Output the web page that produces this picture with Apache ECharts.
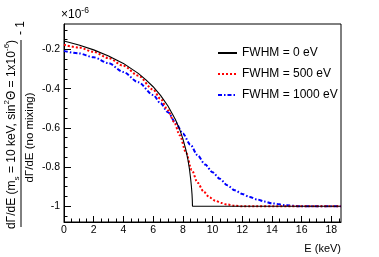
<!DOCTYPE html>
<html><head><meta charset="utf-8">
<script src="https://cdn.jsdelivr.net/npm/echarts@6/dist/echarts.min.js"></script>
<style>html,body{margin:0;padding:0;background:#fff}#c{width:379px;height:257px}</style>
</head><body><div id="c"></div>
<script>
// Data (values in units of 1e-6)
const seriesNames = ['FWHM = 0 eV', 'FWHM = 500 eV', 'FWHM = 1000 eV'];
const eBlack = [0, 1, 2, 3, 4, 5, 5.5, 6, 6.5, 7, 7.5, 7.8, 8.0, 8.2, 8.35, 8.45, 8.52, 8.58, 8.62, 8.64, 8.65, 18.65];
const vBlack = [-0.157, -0.177, -0.202, -0.233, -0.271, -0.322, -0.354, -0.39, -0.434, -0.488, -0.557, -0.61, -0.655, -0.71, -0.765, -0.812, -0.855, -0.9, -0.94, -0.97, -1.0, -1.0];
const eRed = [0, 1, 2, 3, 4, 5, 6, 6.5, 7, 7.4, 7.8, 8.2, 8.6, 9.0, 9.4, 9.8, 10.2, 10.6, 11, 11.5, 12, 18.65];
const vRed = [-0.176, -0.19, -0.212, -0.244, -0.283, -0.333, -0.405, -0.452, -0.51, -0.568, -0.638, -0.722, -0.815, -0.88, -0.925, -0.955, -0.972, -0.983, -0.991, -0.997, -1.0, -1.0];
const eBlue = [0, 1, 2, 3, 4, 5, 6, 6.5, 7, 7.5, 8, 8.5, 9, 9.5, 10, 10.5, 11, 11.5, 12, 12.5, 13, 13.5, 14, 15, 16, 18.65];
const vBlue = [-0.207, -0.22, -0.24, -0.27, -0.315, -0.367, -0.432, -0.474, -0.52, -0.572, -0.628, -0.685, -0.74, -0.787, -0.826, -0.86, -0.893, -0.918, -0.937, -0.952, -0.965, -0.976, -0.985, -0.995, -1.0, -1.0];
const xMajorTicks = [0, 2, 4, 6, 8, 10, 12, 14, 16, 18];
const xMinorTicks = [0.5,1,1.5,2.5,3,3.5,4.5,5,5.5,6.5,7,7.5,8.5,9,9.5,10.5,11,11.5,12.5,13,13.5,14.5,15,15.5,16.5,17,17.5,18.5];
const yMajorTicks = [-1, -0.8, -0.6, -0.4, -0.2];
const yMinorTicks = [-1.05,-0.95,-0.9,-0.85,-0.75,-0.7,-0.65,-0.55,-0.5,-0.45,-0.35,-0.3,-0.25,-0.15,-0.1];
const xRange = [0, 18.65];
const yRange = [-1.08, -0.07];

const zip = (a, b) => a.map((x, i) => [x, b[i]]);
const FONT = 'Liberation Sans';
const chart = echarts.init(document.getElementById('c'), null, {renderer: 'canvas'});
const xBase = {type: 'value', min: xRange[0], max: xRange[1], splitLine: {show: false}};
const yBase = {type: 'value', min: yRange[0], max: yRange[1], splitLine: {show: false}};
chart.setOption({
  animation: false,
  backgroundColor: '#fff',
  grid: {left: 64, right: 38, top: 24, bottom: 35, show: true, borderColor: '#000', borderWidth: 1},
  xAxis: [
    Object.assign({}, xBase, {
      axisLine: {lineStyle: {color: '#000', width: 1}},
      axisTick: {inside: true, length: 6, lineStyle: {color: '#000'}, customValues: xMajorTicks},
      axisLabel: {customValues: xMajorTicks, color: '#000', fontFamily: FONT, fontSize: 10.5, margin: 3}
    }),
    Object.assign({}, xBase, {
      position: 'bottom',
      axisLine: {show: false},
      axisTick: {inside: true, length: 3.5, lineStyle: {color: '#000'}, customValues: xMinorTicks},
      axisLabel: {show: false}
    })
  ],
  yAxis: [
    Object.assign({}, yBase, {
      axisLine: {show: true, lineStyle: {color: '#000', width: 1}},
      axisTick: {show: true, inside: true, length: 7, lineStyle: {color: '#000'}, customValues: yMajorTicks},
      axisLabel: {customValues: yMajorTicks, color: '#000', fontFamily: FONT, fontSize: 10.5, margin: 4,
        formatter: v => String(Math.round(v * 10) / 10)}
    }),
    Object.assign({}, yBase, {
      position: 'left',
      axisLine: {show: false},
      axisTick: {show: true, inside: true, length: 3.5, lineStyle: {color: '#000'}, customValues: yMinorTicks},
      axisLabel: {show: false}
    })
  ],
  legend: {
    orient: 'vertical', left: 212, top: 42, itemWidth: 19, itemHeight: 12, itemGap: 9,
    itemStyle: {opacity: 0},
    textStyle: {color: '#000', fontFamily: FONT, fontSize: 12},
    data: seriesNames
  },
  series: [
    {name: seriesNames[0], type: 'line', data: zip(eBlack, vBlack), symbol: 'none', smooth: false,
      lineStyle: {color: '#000', width: 1.1}, itemStyle: {color: '#000'}, z: 4},
    {name: seriesNames[1], type: 'line', data: zip(eRed, vRed), symbol: 'none', smooth: 0.3, smoothMonotone: 'x',
      lineStyle: {color: '#ff0000', width: 2, type: [2, 2]}, itemStyle: {color: '#ff0000'}, z: 3},
    {name: seriesNames[2], type: 'line', data: zip(eBlue, vBlue), symbol: 'none', smooth: 0.3, smoothMonotone: 'x',
      lineStyle: {color: '#0000ff', width: 2, type: [4, 2, 1.5, 2]}, itemStyle: {color: '#0000ff'}, z: 2}
  ],
  graphic: [
    {type: 'text', x: 61, y: 24, style: {text: '×10{sup|-6}', fill: '#000', fontSize: 12, fontFamily: FONT,
      verticalAlign: 'bottom', rich: {sup: {fontSize: 8.5, fontFamily: FONT, verticalAlign: 'top', lineHeight: 18}}}},
    {type: 'text', x: 341, y: 249, style: {text: 'E (keV)', fill: '#000', fontSize: 11, fontFamily: FONT, align: 'right', verticalAlign: 'middle'}},
    {type: 'text', x: 12, y: 134.5, rotation: Math.PI / 2, style: {
      text: 'dΓ/dE (m{sub|s} = 10 keV, sin{sup|2}Θ = 1x10{sup|-6})', fill: '#000', fontSize: 12, fontFamily: FONT,
      align: 'center', verticalAlign: 'middle',
      rich: {sub: {fontSize: 8, fontFamily: FONT, verticalAlign: 'bottom', lineHeight: 18},
             sup: {fontSize: 8, fontFamily: FONT, verticalAlign: 'top', lineHeight: 18}}}},
    {type: 'line', shape: {x1: 21, y1: 40, x2: 21, y2: 227}, style: {stroke: '#000', lineWidth: 1}},
    {type: 'text', x: 21, y: 28, rotation: Math.PI / 2, style: {text: '- 1', fill: '#000', fontSize: 12, fontFamily: FONT, align: 'center', verticalAlign: 'middle'}},
    {type: 'text', x: 30, y: 137.5, rotation: Math.PI / 2, style: {text: 'dΓ/dE (no mixing)', fill: '#000', fontSize: 11.5, fontFamily: FONT, align: 'center', verticalAlign: 'middle'}}
  ]
});
</script></body></html>
